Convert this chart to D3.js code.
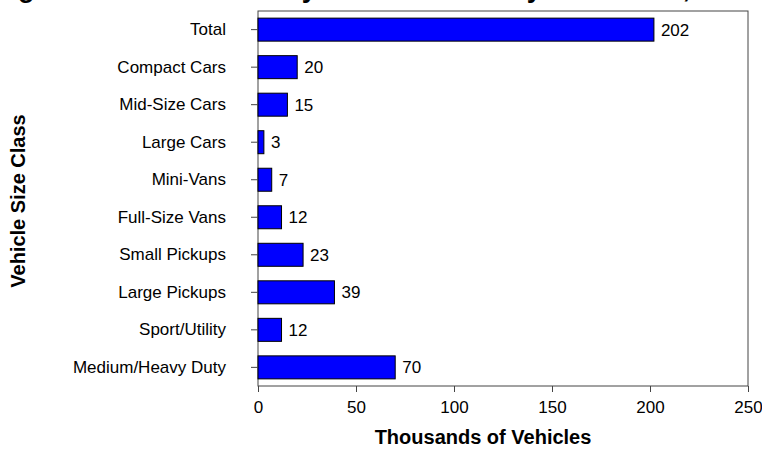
<!DOCTYPE html>
<html><head><meta charset="utf-8">
<script src="https://cdn.jsdelivr.net/npm/d3@7/dist/d3.min.js"></script>
<style>body{margin:0;background:#fff;}svg{display:block;font-family:Arial,"Liberation Sans",sans-serif;}</style>
</head><body>
<svg id="chart" width="762" height="449"></svg>
<script>
const categories = ["Total","Compact Cars","Mid-Size Cars","Large Cars","Mini-Vans","Full-Size Vans","Small Pickups","Large Pickups","Sport/Utility","Medium/Heavy Duty"];
const values = [202,20,15,3,7,12,23,39,12,70];
const valueLabels = ["202","20","15","3","7","12","23","39","12","70"];
const xTicks = [0,50,100,150,200,250];
const titleText = "Figure 3.8. Electric Utility Fleet Vehicles by Size Class, 1996";
const xTitle = "Thousands of Vehicles";
const yTitle = "Vehicle Size Class";

const svg = d3.select("#chart");
const m = {left:258, right:748, top:11, bottom:386};
const x = d3.scaleLinear().domain([0,250]).range([m.left, m.right]);
const y = d3.scaleBand().domain(categories).range([m.top, m.bottom]).paddingInner(0.387).paddingOuter(0.19);

// title (clipped at top)
svg.append("text").attr("x",376).attr("y",-3).attr("text-anchor","middle")
  .style("font-size","27px").style("font-weight","bold").text(titleText);

// frame
svg.append("rect").attr("x",m.left).attr("y",m.top).attr("width",m.right-m.left).attr("height",m.bottom-m.top)
  .attr("fill","none").attr("stroke","#444").attr("stroke-width",1);

// bars
svg.selectAll("rect.bar").data(categories).enter().append("rect").attr("class","bar")
  .attr("x",x(0)).attr("y",d=>y(d)).attr("width",(d,i)=>x(values[i])-x(0)).attr("height",y.bandwidth())
  .attr("fill","#0000ff").attr("stroke","#000").attr("stroke-width",1);

svg.selectAll("text.val").data(categories).enter().append("text").attr("class","val")
  .attr("x",(d,i)=>x(values[i])+7).attr("y",d=>y(d)+y.bandwidth()/2).attr("dy","0.36em")
  .style("font-size","17px").text((d,i)=>valueLabels[i]);

// axes
const xAxis = d3.axisBottom(x).tickValues(xTicks).tickSize(6).tickPadding(9);
const gx = svg.append("g").attr("transform",`translate(0,${m.bottom})`).call(xAxis);
gx.select(".domain").remove();
gx.selectAll("line").attr("stroke","#444");
gx.selectAll("text").style("font-size","17px").attr("fill","#000");

const yAxis = d3.axisLeft(y).tickSize(7).tickPadding(25);
const gy = svg.append("g").attr("transform",`translate(${m.left},0)`).call(yAxis);
gy.select(".domain").remove();
gy.selectAll("line").attr("stroke","#444");
gy.selectAll("text").style("font-size","17px").attr("fill","#000");

svg.append("text").attr("x",483).attr("y",444).attr("text-anchor","middle")
  .style("font-size","20px").style("font-weight","bold").text(xTitle);
svg.append("text").attr("transform","translate(25,201) rotate(-90)").attr("text-anchor","middle")
  .style("font-size","20px").style("font-weight","bold").text(yTitle);
</script>
</body></html>
